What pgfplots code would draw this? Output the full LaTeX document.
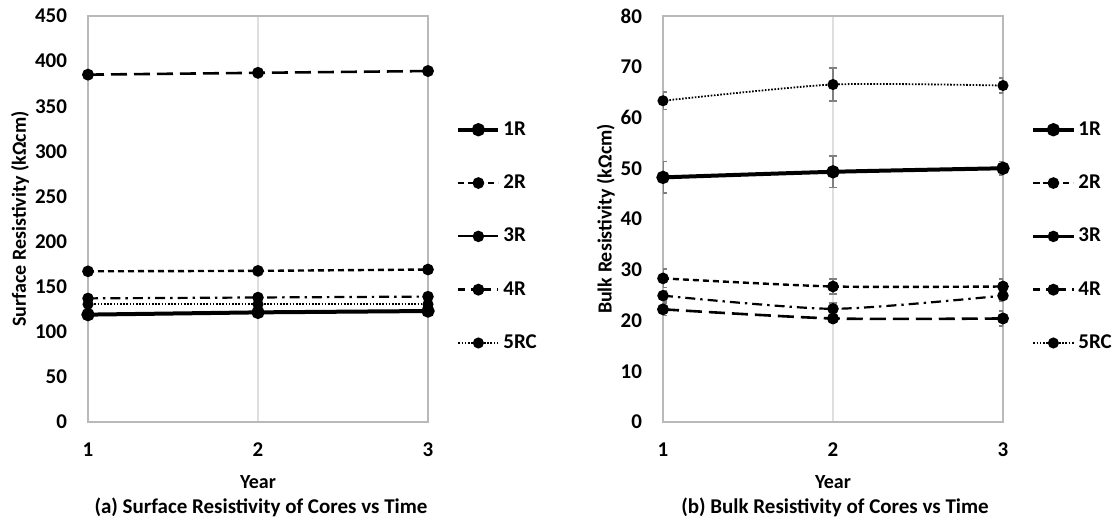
\documentclass[border=0pt]{standalone}
\usepackage{fontspec}
\setmainfont{Carlito}
\usepackage{pgfplots}
\pgfplotsset{compat=1.18}

\pgfplotsset{
 myax/.style={scale only axis, width=170pt, height=203pt, anchor=south west,
   xmin=1, xmax=3, xtick={1,2,3}, ymin=0,
   axis line style={gray!55, line width=0.7pt},
   xmajorgrids, grid style={gray!25, line width=0.7pt},
   major tick length=0pt,
   tick label style={font=\fontsize{10.5}{12}\selectfont\bfseries, black},
   /pgf/number format/assume math mode=true,
   xticklabel style={yshift=-7pt},
   yticklabel style={xshift=-7pt},
   label style={font=\fontsize{10}{12}\selectfont\bfseries},
   xlabel={Year},
   xlabel style={at={(axis description cs:0.5,-0.148)}, anchor=center},
   legend style={draw=none, fill=none, at={(rel axis cs:1,1)}, anchor=north west,
     xshift=14pt, yshift=-51pt, font=\fontsize{10.5}{12}\selectfont\bfseries,
     row sep=15.3pt, inner sep=0pt, nodes={inner sep=1.5pt}},
   legend cell align=left,
   legend image code/.code={\draw[mark repeat=2, mark phase=2, #1] plot coordinates {(0pt,0pt) (10pt,0pt) (20pt,0pt)};},
 },
 mk/.style={mark=*, mark size=2.3pt, mark options={solid, fill=black}},
 s1/.style={black, line width=2pt, mk},
 s2/.style={black, line width=1.2pt, dash pattern=on 3pt off 2pt, mk},
 s3/.style={black, line width=1.1pt, dash pattern=on 5pt off 2.5pt on 1.2pt off 2.5pt, mk, legend image post style={solid}},
 s4/.style={black, line width=1.3pt, dash pattern=on 8pt off 3.5pt, mk, legend image post style={dash pattern=on 3.5pt off 3pt}},
 s5/.style={black, line width=0.9pt, dash pattern=on 0.8pt off 0.8pt, mk},
 eb/.style={error bars/.cd, y dir=both, y explicit,
   error bar style={gray, line width=0.8pt, solid},
   error mark options={rotate=90, mark size=2pt, gray, line width=0.8pt, solid}},
}

\begin{document}
\begin{tikzpicture}
\useasboundingbox (0,0) rectangle (558pt,265pt);

\begin{axis}[myax, at={(44pt,54pt)}, ymax=450, ytick={0,50,...,450},
  ylabel={Surface Resistivity (kΩcm)},
  ylabel style={at={(axis description cs:-0.2,0.5)}, anchor=center}]
\addplot[s1] coordinates {(1,119) (2,121.5) (3,123)};
\addlegendentry{1R}
\addplot[s2] coordinates {(1,167) (2,167.5) (3,169)};
\addlegendentry{2R}
\addplot[s3] coordinates {(1,137) (2,138) (3,139)};
\addlegendentry{3R}
\addplot[s4] coordinates {(1,385) (2,387) (3,389)};
\addlegendentry{4R}
\addplot[s5] coordinates {(1,130.5) (2,130.5) (3,130.5)};
\addlegendentry{5RC}
\end{axis}

\begin{axis}[myax, at={(331.5pt,54pt)}, ymax=80, ytick={0,10,...,80},
  ylabel={Bulk Resistivity (kΩcm)},
  ylabel style={at={(axis description cs:-0.168,0.5)}, anchor=center}]
\addplot[s1, smooth, tension=0.4, eb] table[x=x, y=y, y error=e] {
x y e
1 48.2 3.1
2 49.3 3.1
3 50.0 1.3
};
\addlegendentry{1R}
\addplot[s2, smooth, tension=0.4, eb] table[x=x, y=y, y error=e] {
x y e
1 28.3 1.8
2 26.7 1.5
3 26.7 1.5
};
\addlegendentry{2R}
\addplot[s3, smooth, tension=0.4, eb] table[x=x, y=y, y error=e] {
x y e
1 24.9 1.0
2 22.3 1.2
3 24.9 1.0
};
\addlegendentry{3R}
\addplot[s4, smooth, tension=0.4, eb] table[x=x, y=y, y error=e] {
x y e
1 22.2 1.2
2 20.4 0.8
3 20.4 1.5
};
\addlegendentry{4R}
\addplot[s5, smooth, tension=0.4, eb] table[x=x, y=y, y error=e] {
x y e
1 63.3 1.7
2 66.5 3.3
3 66.3 1.5
};
\addlegendentry{5RC}
\end{axis}

\node[font=\fontsize{10.5}{12}\selectfont\bfseries] at (130.5pt,11.5pt) {(a) Surface Resistivity of Cores vs Time};
\node[font=\fontsize{10.5}{12}\selectfont\bfseries] at (417.5pt,11.5pt) {(b) Bulk Resistivity of Cores vs Time};
\end{tikzpicture}
\end{document}
